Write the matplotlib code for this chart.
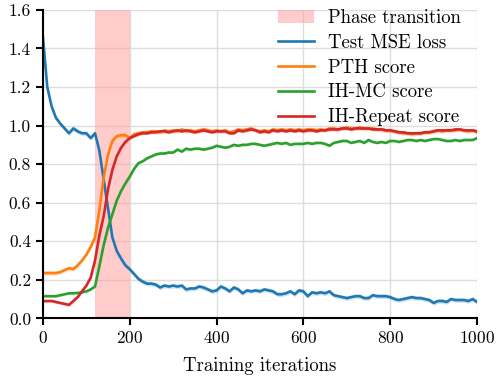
import numpy as np
import matplotlib
matplotlib.use("Agg")
import matplotlib.pyplot as plt

plt.rcParams['font.family'] = ['cmr10', 'DejaVu Serif']
plt.rcParams['mathtext.fontset'] = 'cm'
plt.rcParams['axes.formatter.use_mathtext'] = True
plt.rcParams['font.size'] = 12

steps = np.arange(0, 1001, 10)

mse_loss = [1.46, 1.20, 1.10, 1.04, 1.01, 0.985, 0.96, 0.985, 0.97, 0.96,
            0.96, 0.935, 0.96, 0.87, 0.72, 0.57, 0.42, 0.35, 0.31, 0.275,
            0.255, 0.23, 0.205, 0.19, 0.18, 0.18, 0.175, 0.16, 0.17, 0.165,
            0.17, 0.165, 0.17, 0.15, 0.155, 0.155, 0.165, 0.16, 0.15, 0.14,
            0.145, 0.165, 0.155, 0.14, 0.16, 0.15, 0.13, 0.145, 0.14, 0.145,
            0.14, 0.15, 0.145, 0.14, 0.125, 0.125, 0.13, 0.14, 0.125, 0.145,
            0.14, 0.115, 0.135, 0.13, 0.135, 0.13, 0.14, 0.12, 0.115, 0.11,
            0.105, 0.11, 0.115, 0.115, 0.105, 0.105, 0.12, 0.115, 0.115, 0.115,
            0.11, 0.10, 0.095, 0.10, 0.105, 0.11, 0.105, 0.105, 0.10, 0.095,
            0.08, 0.09, 0.09, 0.085, 0.10, 0.095, 0.095, 0.095, 0.09, 0.10,
            0.085]

pth_score = [0.235, 0.235, 0.235, 0.235, 0.24, 0.25, 0.26, 0.255, 0.275, 0.30,
             0.33, 0.37, 0.42, 0.56, 0.73, 0.85, 0.92, 0.945, 0.95, 0.95,
             0.935, 0.955, 0.96, 0.965, 0.965, 0.97, 0.97, 0.965, 0.975, 0.97,
             0.975, 0.97, 0.98, 0.97, 0.975, 0.97, 0.975, 0.98, 0.975, 0.97,
             0.975, 0.97, 0.975, 0.965, 0.97, 0.98, 0.975, 0.98, 0.985, 0.975,
             0.97, 0.975, 0.97, 0.98, 0.975, 0.98, 0.975, 0.98, 0.975, 0.98,
             0.975, 0.98, 0.98, 0.975, 0.98, 0.975, 0.985, 0.985, 0.98, 0.985,
             0.99, 0.985, 0.985, 0.99, 0.985, 0.985, 0.985, 0.98, 0.98, 0.975,
             0.975, 0.97, 0.965, 0.96, 0.96, 0.955, 0.96, 0.96, 0.965, 0.965,
             0.97, 0.975, 0.97, 0.975, 0.975, 0.975, 0.98, 0.975, 0.97, 0.975,
             0.965]

ih_mc_score = [0.115, 0.115, 0.115, 0.115, 0.12, 0.125, 0.13, 0.13, 0.132, 0.135,
               0.14, 0.15, 0.165, 0.27, 0.38, 0.47, 0.54, 0.61, 0.66, 0.70,
               0.735, 0.775, 0.805, 0.815, 0.83, 0.84, 0.85, 0.855, 0.855, 0.86,
               0.86, 0.875, 0.865, 0.88, 0.875, 0.88, 0.88, 0.875, 0.88, 0.885,
               0.895, 0.89, 0.885, 0.89, 0.90, 0.895, 0.90, 0.90, 0.905, 0.905,
               0.90, 0.895, 0.90, 0.905, 0.91, 0.905, 0.91, 0.90, 0.905, 0.905,
               0.905, 0.91, 0.905, 0.91, 0.91, 0.905, 0.895, 0.91, 0.915, 0.92,
               0.92, 0.91, 0.915, 0.92, 0.91, 0.925, 0.915, 0.91, 0.915, 0.91,
               0.92, 0.92, 0.915, 0.92, 0.925, 0.925, 0.92, 0.925, 0.92, 0.925,
               0.93, 0.93, 0.925, 0.92, 0.92, 0.925, 0.92, 0.925, 0.925, 0.925,
               0.935]

ih_repeat_score = [0.09, 0.09, 0.09, 0.085, 0.08, 0.075, 0.07, 0.09, 0.11, 0.14,
                   0.17, 0.21, 0.30, 0.43, 0.53, 0.67, 0.77, 0.84, 0.885, 0.915,
                   0.935, 0.945, 0.955, 0.96, 0.96, 0.965, 0.965, 0.97, 0.97, 0.965,
                   0.97, 0.975, 0.97, 0.975, 0.97, 0.965, 0.97, 0.975, 0.97, 0.965,
                   0.97, 0.97, 0.97, 0.96, 0.96, 0.975, 0.97, 0.975, 0.98, 0.975,
                   0.965, 0.97, 0.965, 0.975, 0.97, 0.975, 0.97, 0.975, 0.97, 0.975,
                   0.97, 0.975, 0.975, 0.97, 0.975, 0.975, 0.98, 0.98, 0.98, 0.985,
                   0.985, 0.98, 0.985, 0.985, 0.985, 0.985, 0.98, 0.98, 0.98, 0.975,
                   0.975, 0.97, 0.965, 0.965, 0.96, 0.96, 0.96, 0.96, 0.965, 0.965,
                   0.97, 0.975, 0.975, 0.975, 0.975, 0.98, 0.98, 0.975, 0.975, 0.975,
                   0.97]

# rough spread across seeds (shaded band half-width)
spread = {'Test MSE loss': 0.012, 'PTH score': 0.012, 'IH-MC score': 0.006, 'IH-Repeat score': 0.008}

phase_start, phase_end = 120, 200

fig, ax = plt.subplots(figsize=(4.99, 3.79), dpi=100)

ax.axvspan(phase_start, phase_end, color='#ff9999', alpha=0.5, lw=0, label='Phase transition')

series = [('Test MSE loss', mse_loss, 'tab:blue'),
          ('PTH score', pth_score, 'tab:orange'),
          ('IH-MC score', ih_mc_score, 'tab:green'),
          ('IH-Repeat score', ih_repeat_score, 'tab:red')]

for name, vals, c in series:
    vals = np.array(vals)
    ax.fill_between(steps, vals - spread[name], vals + spread[name], color=c, alpha=0.2, lw=0)
    ax.plot(steps, vals, color=c, lw=1.9, label=name)

ax.set_xlim(0, 1000)
ax.set_ylim(0, 1.6)
ax.set_xticks([0, 200, 400, 600, 800, 1000])
ax.set_yticks(np.arange(0, 1.61, 0.2))
ax.yaxis.set_major_formatter(matplotlib.ticker.FormatStrFormatter('%.1f'))
ax.grid(True, color='#dddddd', lw=1)
ax.set_axisbelow(True)
for s in ['top', 'right']:
    ax.spines[s].set_visible(False)
for s in ['left', 'bottom']:
    ax.spines[s].set_linewidth(1.5)
ax.tick_params(width=1.5, length=5, labelsize=12.5)
ax.set_xlabel('Training iterations', fontsize=13.5, labelpad=7.5)

ax.legend(loc='upper right', bbox_to_anchor=(0.963, 1.003), frameon=False, fontsize=13.5,
          handlelength=1.9, handletextpad=0.75, borderpad=0, borderaxespad=0,
          labelspacing=0.37)

fig.subplots_adjust(left=0.086, right=0.956, top=0.974, bottom=0.16)
plt.savefig('out.png', dpi=100)
